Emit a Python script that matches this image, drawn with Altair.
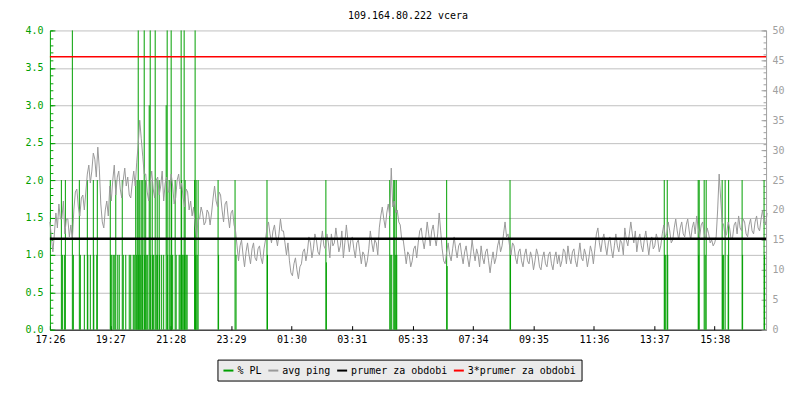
import altair as alt
import pandas as pd

TITLE = "109.164.80.222 vcera"
FONT = "DejaVu Sans Mono"

# x axis tick labels (time of day, 24 h window starting at the first label)
tick_labels = ["17:26", "19:27", "21:28", "23:29", "01:30", "03:31",
               "05:33", "07:34", "09:35", "11:36", "13:37", "15:38"]
span_min = 1435          # length of the window in minutes
ping_step = 3            # minutes between ping samples

# average ping [ms], one sample every ping_step minutes
ping_ms = [
    18, 15.5, 13, 16, 19.5, 17, 21, 18.5, 18.5, 21.5, 16, 18.5, 18.5, 15.5, 17.5, 15, 20, 23, 23.5, 20.5,
    19, 22, 22.5, 20, 23, 26, 27.5, 24.5, 26.5, 29.5, 28.5, 25.5, 30.5, 27, 21, 18, 17, 20, 21.5, 19,
    24, 21.5, 25, 27.5, 22.5, 25.5, 26.5, 23.5, 22, 25, 27, 24, 25.5, 22.5, 22, 24.5, 26.5, 24, 28, 31,
    35, 32, 29, 26, 26, 23, 21.5, 24.5, 26.5, 23.5, 22, 25, 25.5, 22.5, 24, 26.5, 21.5, 24.5, 25.5, 23,
    23, 26, 24, 21, 22, 25, 26, 23.5, 24.5, 22, 20.5, 23.5, 23, 20, 21.5, 19, 20.5, 17.5, 15.5, 18.5,
    18.5, 20.5, 19.5, 17.5, 18, 20, 19.5, 17.5, 19.5, 22, 24, 21.5, 20.5, 23, 22.5, 20, 18, 21, 21.5, 19,
    17, 19.5, 20, 17.5, 16.5, 14, 11.5, 14, 15, 12.5, 10.5, 13, 14.5, 12.5, 11, 13.5, 14.5, 12, 11.5, 13.5,
    14, 12, 11, 13.5, 15, 17, 18, 16, 14.5, 16.5, 17.5, 15.5, 14, 16, 18.5, 16.5, 16.5, 14.5, 12.5, 14.5,
    11.5, 9.5, 9, 11, 12, 10, 8.5, 10.5, 11, 13, 13.5, 11.5, 13, 15.5, 14.5, 12, 13.5, 16, 15, 13,
    12.5, 14.5, 16.5, 14, 13.5, 16, 14.5, 12, 16, 14, 14.5, 17, 15, 13, 14, 16.5, 12, 14.5, 17.5, 15,
    13, 15, 15.5, 13.5, 12, 14.5, 15, 13, 11, 13, 12.5, 10.5, 11.5, 13.5, 16.5, 14.5, 13, 15, 14.5, 12.5,
    17, 19, 20.5, 18.5, 17, 19.5, 21, 19, 27, 20.5, 21.5, 19.5, 20, 18, 17.5, 15, 15, 13, 11, 13,
    12.5, 10.5, 11.5, 13.5, 14, 12, 14.5, 16.5, 17, 15, 13.5, 15.5, 18, 16, 14, 16.5, 17.5, 15.5, 14, 16,
    19.5, 16.5, 13.5, 11.5, 11, 13, 14.5, 12.5, 11.5, 13.5, 15.5, 13.5, 12, 14, 14.5, 12.5, 11, 13, 14, 12,
    10.5, 12.5, 15, 13, 11.5, 13.5, 12.5, 10.5, 14, 12, 11, 13, 13.5, 11.5, 9.5, 11.5, 13, 11, 12, 14,
    15, 13, 14, 16, 18, 15.5, 16, 14, 12.5, 14.5, 14, 12, 11, 13, 13.5, 11.5, 10.5, 12.5, 13.5, 11.5,
    11, 13, 12, 10, 11.5, 13.5, 12.5, 10.5, 10, 12, 13, 11, 10.5, 12.5, 13, 11, 10, 12, 13, 11,
    12.5, 10.5, 11.5, 13.5, 13, 11, 14, 12, 11, 13, 13.5, 11.5, 10.5, 12.5, 14.5, 12, 11.5, 13.5, 12.5, 10.5,
    12, 14, 13, 11, 13.5, 16, 17, 14.5, 13, 15, 16, 14, 12.5, 14.5, 15.5, 13.5, 12, 14, 16, 14,
    13, 15, 14.5, 12.5, 17, 15, 14, 16, 18, 16, 14.5, 16.5, 13, 15, 16, 14, 13, 15, 16.5, 14.5,
    12.5, 14.5, 15.5, 13.5, 14, 16, 15, 13, 14, 16, 17.5, 15.5, 16, 18, 16.5, 14.5, 15, 17, 18.5, 16.5,
    15, 17, 18, 16, 15.5, 17.5, 18.5, 16.5, 15, 17, 18, 16, 19, 17, 15.5, 17.5, 18, 16, 15, 17,
    16, 14.5, 15, 14, 14.5, 15.5, 20, 26, 22, 18, 17.5, 15.5, 16, 18, 17, 15, 15.5, 17.5, 18, 16,
    19, 17, 16.5, 18.5, 18, 16, 15.5, 17.5, 18.5, 16.5, 16, 18, 19, 17, 16.5, 18.5, 20, 18, 17.5, 19.5,
]

# packet loss [%]: minute after start, value
pl_minute = [
    23, 25, 29, 31, 45, 47, 59, 61, 69, 75, 76, 81, 87, 88, 94, 95,
    121, 122, 124, 127, 130, 132, 136, 139, 145, 147, 152, 159, 162, 167, 169,
    172, 174, 175, 177, 178, 180, 181, 183, 185, 186, 189, 190, 192, 193, 196,
    199, 201, 202, 205, 206, 208, 211, 213, 215, 216, 219, 220, 224, 228, 233,
    235, 236, 239, 241, 243, 244, 246, 251, 253, 259, 261, 263, 264, 265, 267,
    269, 270, 271, 273, 275, 290, 291, 292, 293, 295, 297,
    337, 338, 371, 373, 435, 436, 553, 554, 681, 683, 685, 689, 691, 692, 694, 695,
    795, 796, 922, 923, 1231, 1232, 1234, 1237, 1238, 1299, 1300, 1301,
    1311, 1313, 1315, 1347, 1348, 1350, 1353, 1359, 1360, 1387, 1388, 1431, 1432,
]
pl_percent = [
    2, 1, 1, 2, 4, 1, 2, 1, 1, 2, 1, 1, 2, 1, 1, 2,
    2, 1, 1, 1, 1, 2, 1, 1, 2, 1, 1, 1, 1, 1, 1,
    2, 1, 2, 4, 1, 2, 1, 2, 1, 2, 4, 1, 2, 1, 1,
    3, 4, 1, 2, 1, 1, 4, 1, 2, 1, 2, 1, 1, 1, 3,
    4, 1, 2, 1, 4, 2, 1, 2, 1, 1, 1, 4, 2, 1, 1,
    4, 1, 2, 1, 1, 2, 4, 1, 2, 1, 2,
    2, 1, 2, 1, 2, 1, 2, 0.9, 2, 1, 1, 2, 2, 1, 2, 1,
    2, 0.85, 2, 1, 2, 1, 1, 2, 1, 2, 1, 2,
    2, 1, 2, 2, 1, 1, 2, 1, 2, 2, 1, 2, 1,
]

avg_ms = 15.2            # prumer za obdobi
ms_per_pct = 12.5        # 50 ms on the right axis == 4.0 % on the left axis

series = ["% PL", "avg ping", "prumer za obdobi", "3*prumer za obdobi"]
colors = ["#00a000", "#9a9a9a", "#000000", "#ff0000"]
GREEN, GRAY = colors[0], "#a0a0a0"

W, H = 718, 300

h0, m0 = map(int, tick_labels[0].split(":"))


def minutes_after_start(lbl):
    h, m = map(int, lbl.split(":"))
    return (h * 60 + m - (h0 * 60 + m0)) % 1440


tick_min = [minutes_after_start(t) for t in tick_labels]

ping_df = pd.DataFrame({"t": [i * ping_step for i in range(len(ping_ms))], "ms": ping_ms,
                        "s": series[1]})
pl_df = pd.DataFrame({"t": pl_minute, "pl": pl_percent, "s": series[0]})
avg_df = pd.DataFrame({"ms": [avg_ms], "s": [series[2]]})
red_df = pd.DataFrame({"ms": [3 * avg_ms], "s": [series[3]]})

x_scale = alt.Scale(domain=[0, span_min], nice=False, zero=False)
y_scale = alt.Scale(domain=[0, 4], nice=False)
color_scale = alt.Scale(domain=series, range=colors)

x_label_expr = f"timeFormat(datetime(2000,0,1,{h0},{m0}+datum.value),'%H:%M')"

x_axis_bottom = alt.Axis(orient="bottom", values=tick_min, labelExpr=x_label_expr,
                         ticks=False, tickSize=0, domainColor="black", labelColor="black",
                         labelFont=FONT, labelFontSize=10, labelPadding=5, grid=False,
                         labelFlush=False, labelOverlap=False, title=None)
x_axis_inner = alt.Axis(orient="top", offset=-H, values=tick_min, labels=False,
                        domain=False, grid=False, tickSize=4, tickColor="black", title=None)

left_vals = [i * 0.5 for i in range(9)]
y_left = alt.Axis(orient="left", values=left_vals, format=".1f", ticks=False, tickSize=0,
                  labelColor=GREEN, labelFont=FONT, labelFontSize=10, labelPadding=7,
                  domainColor=GREEN, grid=True, gridColor="#c0c0c0", labelFlush=False,
                  title=None)
y_left_minor = alt.Axis(orient="right", offset=-W, values=[i / 10 for i in range(41)],
                        labels=False, domain=False, grid=False, tickSize=3,
                        tickColor=GREEN, title=None)
y_left_major = alt.Axis(orient="right", offset=-W, values=left_vals, labels=False,
                        domain=False, grid=False, tickSize=5, tickColor=GREEN, title=None)
y_right = alt.Axis(orient="right", values=[v / ms_per_pct for v in range(0, 51, 5)],
                   labelExpr=f"format(datum.value*{ms_per_pct},'d')", ticks=False, tickSize=0,
                   labelColor=GRAY, labelFont=FONT, labelFontSize=10, labelPadding=6,
                   domainColor=GRAY, grid=False, labelFlush=False, title=None)
y_right_minor = alt.Axis(orient="left", offset=-W, values=[v / ms_per_pct for v in range(51)],
                         labels=False, domain=False, grid=False, tickSize=3,
                         tickColor=GRAY, title=None)
y_right_major = alt.Axis(orient="left", offset=-W, values=[v / ms_per_pct for v in range(0, 51, 5)],
                         labels=False, domain=False, grid=False, tickSize=5,
                         tickColor=GRAY, title=None)

legend = alt.Legend(title=None, orient="none", legendX=168, legendY=330,
                    direction="horizontal", symbolType="stroke", symbolSize=100,
                    symbolStrokeWidth=2, labelFont=FONT, labelFontSize=10,
                    labelColor="black", labelOffset=3, columnPadding=2, padding=5,
                    fillColor="#ebebeb", strokeColor="black", cornerRadius=0)

color_enc = alt.Color("s:N", scale=color_scale, legend=legend)

pl_layer = alt.Chart(pl_df).mark_rule(strokeWidth=1).encode(
    x=alt.X("t:Q", scale=x_scale, axis=x_axis_bottom),
    y=alt.Y("pl:Q", scale=y_scale, axis=y_left),
    y2=alt.datum(0),
    color=color_enc,
)

ping_layer = alt.Chart(ping_df).transform_calculate(
    L=f"datum.ms/{ms_per_pct}"
).mark_line(interpolate="linear", strokeWidth=1).encode(
    x=alt.X("t:Q", scale=x_scale, axis=x_axis_inner),
    y=alt.Y("L:Q", scale=y_scale, axis=y_right),
    color=color_enc,
)

avg_layer = alt.Chart(avg_df).transform_calculate(
    L=f"datum.ms/{ms_per_pct}"
).mark_rule(strokeWidth=2.5).encode(
    y=alt.Y("L:Q", scale=y_scale, axis=y_left_minor),
    color=color_enc,
)

red_layer = alt.Chart(red_df).transform_calculate(
    L=f"datum.ms/{ms_per_pct}"
).mark_rule(strokeWidth=1.3).encode(
    y=alt.Y("L:Q", scale=y_scale, axis=y_right_minor),
    color=color_enc,
)

tick_layer_l = alt.Chart(avg_df).transform_calculate(
    L=f"datum.ms/{ms_per_pct}"
).mark_rule(opacity=0).encode(y=alt.Y("L:Q", scale=y_scale, axis=y_left_major))
tick_layer_r = alt.Chart(avg_df).transform_calculate(
    L=f"datum.ms/{ms_per_pct}"
).mark_rule(opacity=0).encode(y=alt.Y("L:Q", scale=y_scale, axis=y_right_major))

chart = alt.layer(
    pl_layer, ping_layer, avg_layer, red_layer, tick_layer_l, tick_layer_r
).resolve_scale(
    x="shared", y="shared"
).resolve_axis(
    x="independent", y="independent"
).properties(
    width=W, height=H,
    title=alt.TitleParams(TITLE, font=FONT, fontSize=10, fontWeight="normal",
                          color="black", anchor="middle", frame="group",
                          baseline="alphabetic", offset=-4),
    autosize=alt.AutoSizeParams(type="none"),
    padding={"left": 42, "top": 22, "right": 26, "bottom": 64},
).configure_view(strokeWidth=0)

chart.save("out.html", embed_options={"renderer": "svg", "actions": False})
